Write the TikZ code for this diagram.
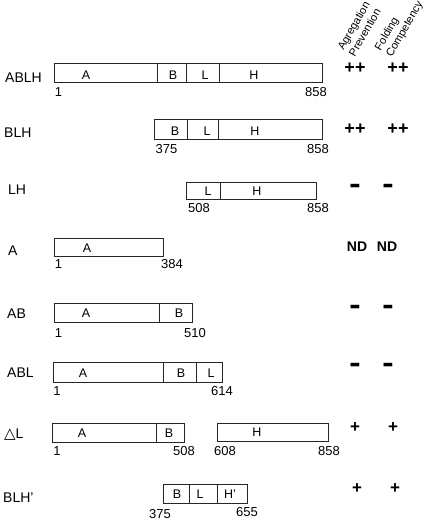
\documentclass[tikz,border=0pt]{standalone}
\usepackage{fontspec}
\setmainfont{Liberation Sans}
\newfontfamily\trifont{DejaVu Sans}
\newcommand{\nofold}{\scalebox{1.1}[2.2]{–}}
\begin{document}
\begin{tikzpicture}[x=1pt,y=-1pt,
        row/.style={anchor=west,inner sep=0pt,font=\fontsize{14}{16}\selectfont},
        dom/.style={inner sep=0pt,font=\fontsize{12.5}{14}\selectfont},
        num/.style={inner sep=0pt,font=\fontsize{13}{15}\selectfont},
        res/.style={inner sep=0pt,font=\fontsize{17}{18}\selectfont\bfseries},
        twice/.style={res,font=\fontsize{18}{20}\selectfont\bfseries},
        head/.style={rotate=60,anchor=south west,align=left,inner sep=0pt,
            font=\fontsize{11}{13}\selectfont},
        box/.style={line width=0.7pt,draw=black!85}]

        \useasboundingbox (0,0) rectangle (432,521);

        % column headers
        \node[head] (hagg) at (355,57.5) {Agregation\\Prevention};
        \node[head] (hfold) at (394,59) {Folding\\Competency};

        % ABLH
        \node[row] (ablh) at (5,78) {ABLH};
        \draw[box] (54,63) rectangle (322,82);
        \draw[box] (157,63) -- (157,82) (186,63) -- (186,82) (219,63) -- (219,82);
        \node[dom] (ablhA) at (86,75) {A};
        \node[dom] (ablhB) at (173,75) {B};
        \node[dom] (ablhL) at (205,75) {L};
        \node[dom] (ablhH) at (254,75) {H};
        \node[num] (ablhs) at (58.5,92) {1};
        \node[num] (ablhe) at (316,92) {858};
        \node[twice] (ablhp) at (355,68) {++};
        \node[twice] (ablhf) at (398,68) {++};

        % BLH
        \node[row] (blh) at (4,133) {BLH};
        \draw[box] (154,119) rectangle (322,139);
        \draw[box] (187,119) -- (187,139) (218,119) -- (218,139);
        \node[dom] (blhB) at (175,131) {B};
        \node[dom] (blhL) at (207,131) {L};
        \node[dom] (blhH) at (255,131) {H};
        \node[num] (blhs) at (166.5,149) {375};
        \node[num] (blhe) at (318,149) {858};
        \node[twice] (blhp) at (355,129) {++};
        \node[twice] (blhf) at (398,129) {++};

        % LH
        \node[row] (lh) at (8,190) {LH};
        \draw[box] (186,182) rectangle (316,199);
        \draw[box] (220,182) -- (220,199);
        \node[dom] (lhL) at (208,191) {L};
        \node[dom] (lhH) at (257,191) {H};
        \node[num] (lhs) at (199,208) {508};
        \node[num] (lhe) at (318,208) {858};
        \node[res,font=\fontsize{16}{18}\selectfont\bfseries] (lhp) at (355,190) {\nofold};
        \node[res,font=\fontsize{16}{18}\selectfont\bfseries] (lhf) at (388,190) {\nofold};

        % A
        \node[row] (a) at (8,251) {A};
        \draw[box] (54,238) rectangle (163,256);
        \node[dom] (aA) at (87,248) {A};
        \node[num] (as) at (58.5,264) {1};
        \node[num] (ae) at (172,264) {384};
        \node[res,font=\fontsize{14}{16}\selectfont\bfseries] (ap) at (357,247) {ND};
        \node[res,font=\fontsize{14}{16}\selectfont\bfseries] (af) at (387,247) {ND};

        % AB
        \node[row] (ab) at (7,314) {AB};
        \draw[box] (54,303) rectangle (192,322);
        \draw[box] (159,303) -- (159,322);
        \node[dom] (abA) at (86,313) {A};
        \node[dom] (abB) at (179,313) {B};
        \node[num] (abs) at (58.5,333) {1};
        \node[num] (abe) at (195,333) {510};
        \node[res,font=\fontsize{16}{18}\selectfont\bfseries] (abp) at (355,311) {\nofold};
        \node[res,font=\fontsize{16}{18}\selectfont\bfseries] (abf) at (388,311) {\nofold};

        % ABL
        \node[row] (abl) at (7,373) {ABL};
        \draw[box] (53,362) rectangle (222,382);
        \draw[box] (163,362) -- (163,382) (196,362) -- (196,382);
        \node[dom] (ablA) at (83,373) {A};
        \node[dom] (ablB) at (181,373) {B};
        \node[dom] (ablL) at (211,373) {L};
        \node[num] (abls) at (57,391) {1};
        \node[num] (able) at (222,391) {614};
        \node[res,font=\fontsize{16}{18}\selectfont\bfseries] (ablp) at (355,369) {\nofold};
        \node[res,font=\fontsize{16}{18}\selectfont\bfseries] (ablf) at (388,369) {\nofold};

        % delta L
        \node[row] (dl) at (4,435) {{\trifont\fontsize{15}{16}\selectfont △}L};
        \draw[box] (52,423) rectangle (184,442);
        \draw[box] (156,423) -- (156,442);
        \draw[box] (217,423) rectangle (328,441);
        \node[dom] (dlA) at (82,433) {A};
        \node[dom] (dlB) at (169,433) {B};
        \node[dom] (dlH) at (257,432) {H};
        \node[num] (dls) at (57,451) {1};
        \node[num] (dle) at (184,451) {508};
        \node[num] (dlhs) at (225,451) {608};
        \node[num] (dlhe) at (329,451) {858};
        \node[res] (dlp) at (355,428) {+};
        \node[res] (dlf) at (393,428) {+};

        % BLH'
        \node[row] (blhp) at (3,498) {BLH’};
        \draw[box] (163,484) rectangle (247,503);
        \draw[box] (189,484) -- (189,503) (217,484) -- (217,503);
        \node[dom] (blhpB) at (177,494) {B};
        \node[dom] (blhpL) at (200,494) {L};
        \node[dom] (blhpH) at (230,494) {H’};
        \node[num] (blhps) at (160,514) {375};
        \node[num] (blhpe) at (247,512) {655};
        \node[res] (blhpp) at (357,489) {+};
        \node[res] (blhpf) at (395,489) {+};
    \end{tikzpicture}
\end{document}
